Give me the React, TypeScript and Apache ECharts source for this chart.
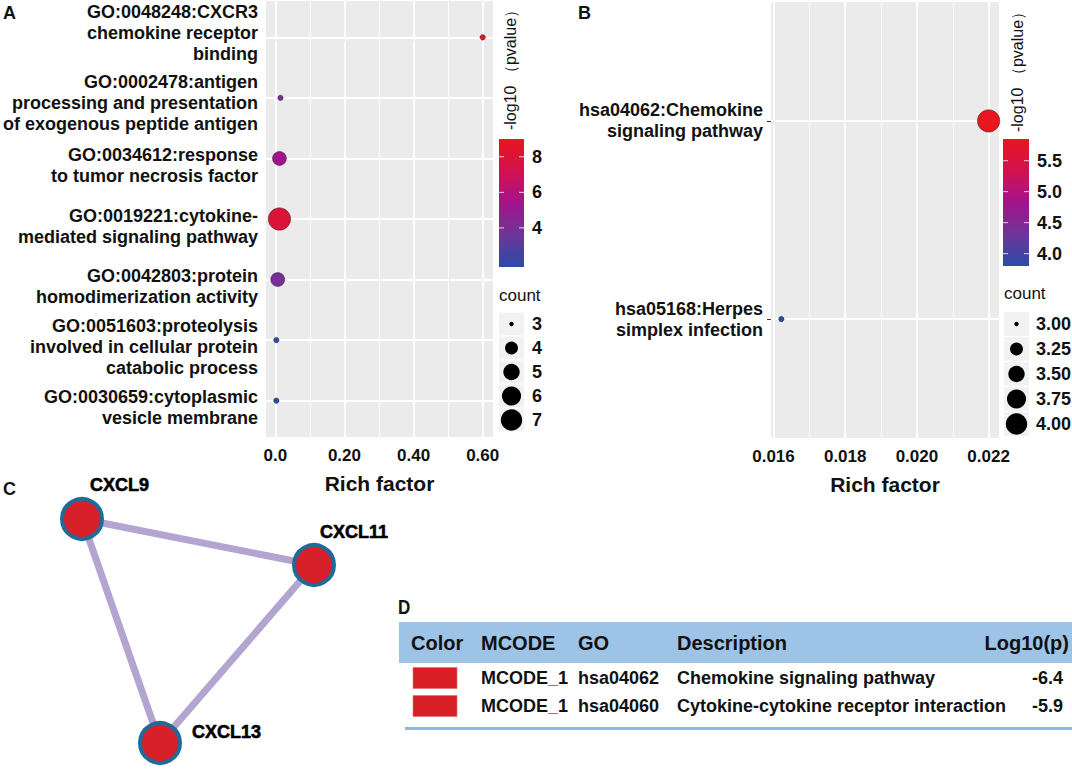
import React, { useEffect, useRef } from "react";
import * as echarts from "echarts";

// ---------- Panel A: GO enrichment ----------
const goTerms = [
  "GO:0048248:CXCR3\nchemokine receptor\nbinding",
  "GO:0002478:antigen\nprocessing and presentation\nof exogenous peptide antigen",
  "GO:0034612:response\nto tumor necrosis factor",
  "GO:0019221:cytokine-\nmediated signaling pathway",
  "GO:0042803:protein\nhomodimerization activity",
  "GO:0051603:proteolysis\ninvolved in cellular protein\ncatabolic process",
  "GO:0030659:cytoplasmic\nvesicle membrane",
];
const goRichFactor = [0.6, 0.015, 0.012, 0.012, 0.007, 0.003, 0.003];
const goCount = [3, 3, 4, 7, 4, 3, 3];
const goLogP = [9.0, 4.1, 5.4, 8.0, 3.9, 1.9, 1.8];
const goXTicks = [0, 0.2, 0.4, 0.6];
const goXTickLabels = ["0.0", "0.20", "0.40", "0.60"];
const goXMinor = [0.1, 0.3, 0.5];
const goColorTicks = [4, 6, 8];
const goColorTickLabels = ["4", "6", "8"];
const goCountBreaks = [3, 4, 5, 6, 7];
const goCountLabels = ["3", "4", "5", "6", "7"];

// ---------- Panel B: KEGG enrichment ----------
const keggTerms = [
  "hsa04062:Chemokine\nsignaling pathway",
  "hsa05168:Herpes\nsimplex infection",
];
const keggRichFactor = [0.022, 0.01622];
const keggCount = [4, 3];
const keggLogP = [5.85, 3.8];
const keggXTicks = [0.016, 0.018, 0.02, 0.022];
const keggXTickLabels = ["0.016", "0.018", "0.020", "0.022"];
const keggXMinor = [0.017, 0.019, 0.021];
const keggColorTicks = [4.0, 4.5, 5.0, 5.5];
const keggColorTickLabels = ["4.0", "4.5", "5.0", "5.5"];
const keggCountBreaks = [3.0, 3.25, 3.5, 3.75, 4.0];
const keggCountLabels = ["3.00", "3.25", "3.50", "3.75", "4.00"];

// ---------- Panel C: network ----------
const genes = ["CXCL9", "CXCL11", "CXCL13"];
const geneLayoutX = [82, 314, 160];
const geneLayoutY = [49, 95, 273];
const geneLinks = [
  ["CXCL9", "CXCL11"],
  ["CXCL9", "CXCL13"],
  ["CXCL11", "CXCL13"],
];

// ---------- Panel D: MCODE table ----------
const tableHeader = ["Color", "MCODE", "GO", "Description", "Log10(p)"];
const tableMcode = ["MCODE_1", "MCODE_1"];
const tableGo = ["hsa04062", "hsa04060"];
const tableDesc = ["Chemokine signaling pathway", "Cytokine-cytokine receptor interaction"];
const tableLogP = ["-6.4", "-5.9"];

const FONT = "'Liberation Sans', Arial, sans-serif";
const TXT = "#111";
const GRAD = ["#2B4BA8", "#6E3599", "#A3138C", "#D2124E", "#E9151F"];

const ext = (a: number[]) => [Math.min(...a), Math.max(...a)];
const expand = (a: number[], m = 0.05) => {
  const [lo, hi] = ext(a);
  const r = hi - lo;
  return [lo - r * m, hi + r * m];
};
const sizeScale = (c: number, lo: number, hi: number) =>
  3.4 * (1 + 5 * Math.sqrt((c - lo) / (hi - lo))) + 2;

function colorbar(x: number, y: number, w: number, h: number, min: number, max: number, ticks: number[], labels: string[]) {
  const els: any[] = [];
  els.push({
    type: "rect",
    shape: { x, y, width: w, height: h },
    style: {
      fill: new echarts.graphic.LinearGradient(
        0, 0, 0, 1,
        GRAD.slice().reverse().map((c, i) => ({ offset: i / (GRAD.length - 1), color: c }))
      ),
    },
  });
  ticks.forEach((v, i) => {
    const ty = y + ((max - v) / (max - min)) * h;
    els.push({ type: "line", shape: { x1: x, y1: ty, x2: x + 5, y2: ty }, style: { stroke: "rgba(255,255,255,0.8)", lineWidth: 1 } });
    els.push({ type: "line", shape: { x1: x + w - 5, y1: ty, x2: x + w, y2: ty }, style: { stroke: "rgba(255,255,255,0.8)", lineWidth: 1 } });
    els.push({
      type: "text",
      style: { text: labels[i], x: x + w + 8, y: ty, fill: TXT, fontSize: 18, fontWeight: "bold", fontFamily: FONT, textAlign: "left", textVerticalAlign: "middle" },
    });
  });
  return els;
}

function countLegend(x: number, titleY: number, firstY: number, step: number, breaks: number[], labels: string[], labelX: number) {
  const els: any[] = [];
  const lo = Math.min(...breaks);
  const hi = Math.max(...breaks);
  els.push({
    type: "text",
    style: { text: "count", x, y: titleY, fill: TXT, fontSize: 17, fontFamily: FONT, textAlign: "left", textVerticalAlign: "middle" },
  });
  breaks.forEach((b, i) => {
    const cy = firstY + i * step;
    els.push({ type: "rect", shape: { x: x, y: cy - step / 2 + 0.5, width: 25, height: step - 1 }, style: { fill: "#F2F2F2" } });
    els.push({ type: "circle", shape: { cx: x + 12.5, cy, r: sizeScale(b, lo, hi) / 2 - 0.5 }, style: { fill: "#000" } });
    els.push({
      type: "text",
      style: { text: labels[i], x: labelX, y: cy, fill: TXT, fontSize: 18, fontWeight: "bold", fontFamily: FONT, textAlign: "left", textVerticalAlign: "middle" },
    });
  });
  return els;
}

function gridLines(xMajor: number[], xMinor: number[], nCat: number) {
  const data: any[] = [];
  xMajor.forEach((v) => data.push({ xAxis: v, lineStyle: { width: 1.8 } }));
  xMinor.forEach((v) => data.push({ xAxis: v, lineStyle: { width: 0.9 } }));
  for (let i = 0; i < nCat; i++) data.push({ yAxis: i, lineStyle: { width: 1.8 } });
  return {
    silent: true,
    z: 1,
    precision: 8,
    symbol: ["none", "none"],
    label: { show: false },
    emphasis: { disabled: true },
    lineStyle: { color: "#FFFFFF", type: "solid" },
    data,
  };
}

function tickFormatter(ticks: number[], labels: string[]) {
  return (v: number) => {
    const i = ticks.findIndex((t) => Math.abs(t - v) < 1e-9);
    return i >= 0 ? labels[i] : "";
  };
}

// rich-text label: optional spacer line above (positive) or below (negative) to shift the block
function richLabel(text: string, shift: number) {
  const body = text.split("\n").map((l) => `{t|${l}}`).join("\n");
  if (shift > 0) return `{s${shift}| }\n${body}`;
  if (shift < 0) return `${body}\n{s${-shift}| }`;
  return body;
}

export default function App() {
  const ref = useRef<HTMLDivElement>(null);
  useEffect(() => {
    document.body.style.margin = "0";
    if (!ref.current) return;
    const chart = echarts.init(ref.current, undefined, { renderer: "svg" });

    const [axMin, axMax] = expand(goRichFactor);
    const [bxMin, bxMax] = expand(keggRichFactor);
    const [aCMin, aCMax] = ext(goLogP);
    const [bCMin, bCMax] = ext(keggLogP);
    const [aSMin, aSMax] = ext(goCount);
    const [bSMin, bSMax] = ext(keggCount);
    const goIdx = goTerms.map((_, i) => i);
    const keggIdx = keggTerms.map((_, i) => i);

    const richStyles: any = {
      t: { fontSize: 18, fontWeight: "bold", fontFamily: FONT, color: TXT, lineHeight: 21 },
      s14: { fontSize: 1, lineHeight: 14 },
      s10: { fontSize: 1, lineHeight: 10 },
      s8: { fontSize: 1, lineHeight: 8 },
    };

    const xAxisBase = (gridIndex: number, min: number, max: number, ticks: number[], labels: string[]) => ({
      type: "value",
      gridIndex,
      min,
      max,
      axisLine: { show: false },
      splitLine: { show: false },
      axisTick: { show: true, length: 4, lineStyle: { color: "#333", width: 1 }, customValues: ticks },
      axisLabel: {
        customValues: ticks,
        formatter: tickFormatter(ticks, labels),
        color: TXT,
        fontSize: 17,
        fontWeight: "bold",
        fontFamily: FONT,
        margin: 10,
        showMinLabel: true,
        showMaxLabel: true,
      },
      name: "Rich factor",
      nameLocation: "middle",
      nameGap: 36,
      nameTextStyle: { fontSize: 21, fontWeight: "bold", color: TXT, fontFamily: FONT },
    });
    const yAxisBase = (gridIndex: number, terms: string[], shifts: number[]) => {
      const lo = -0.6;
      const hi = terms.length - 1 + 0.6;
      // empty sentinel labels at the axis ends keep the real labels away from min/max label thinning
      const vals = [lo, ...terms.map((_, i) => i), hi];
      return {
        type: "value",
        gridIndex,
        min: lo,
        max: hi,
        inverse: true,
        axisLine: { show: false },
        splitLine: { show: false },
        axisTick: { show: true, length: 4, lineStyle: { color: "#333", width: 1 }, customValues: vals },
        axisLabel: {
          customValues: vals,
          formatter: (v: number) => {
            const i = Math.round(v);
            if (Math.abs(v - i) > 1e-6 || terms[i] === undefined) return "";
            return richLabel(terms[i], shifts[i]);
          },
          rich: richStyles,
          color: TXT,
          fontSize: 18,
          fontWeight: "bold",
          fontFamily: FONT,
          align: "right",
          margin: 8,
          showMinLabel: false,
          showMaxLabel: false,
          hideOverlap: false,
        },
      };
    };

    const ctext = (text: string, x: number, y: number, size: number, weight: string, align: string, scaleX = 1) => ({
      type: "text",
      x,
      y,
      scaleX,
      style: { text, x: 0, y: 0, fill: TXT, fontSize: size, fontWeight: weight, fontFamily: FONT, textAlign: align, textVerticalAlign: "middle" },
    });

    const graphic: any[] = [
      ctext("A", 3, 13, 18, "bold", "left"),
      ctext("B", 578, 13, 18, "bold", "left"),
      ctext("C", 3, 489, 18, "bold", "left"),
      ctext("D", 398, 607, 20, "bold", "left", 0.85),
      { type: "text", x: 510, y: 66, rotation: Math.PI / 2, style: { text: "-log10 （pvalue）", x: 0, y: 0, fill: TXT, fontSize: 16, fontFamily: FONT, textAlign: "center", textVerticalAlign: "middle" } },
      { type: "text", x: 1017, y: 68, rotation: Math.PI / 2, style: { text: "-log10 （pvalue）", x: 0, y: 0, fill: TXT, fontSize: 16, fontFamily: FONT, textAlign: "center", textVerticalAlign: "middle" } },
      ...colorbar(499, 139, 25, 128, aCMin, aCMax, goColorTicks, goColorTickLabels),
      ...colorbar(1003, 139, 26, 127, bCMin, bCMax, keggColorTicks, keggColorTickLabels),
      ...countLegend(499, 295, 324, 24, goCountBreaks, goCountLabels, 532),
      ...countLegend(1004, 293, 324, 25, keggCountBreaks, keggCountLabels, 1036),
    ];

    // Panel D table
    const headerX = [411, 481, 578, 677, 1069];
    graphic.push({ type: "rect", shape: { x: 399, y: 622, width: 673, height: 41 }, style: { fill: "#9DC3E6" } });
    tableHeader.forEach((h, i) => {
      graphic.push(ctext(h, headerX[i], 643, 20, "bold", i === tableHeader.length - 1 ? "right" : "left"));
    });
    tableMcode.forEach((m, r) => {
      const cy = 678 + r * 28;
      graphic.push({ type: "rect", shape: { x: 413, y: cy - 10.5, width: 44, height: 21 }, style: { fill: "#D81F26", stroke: "#E86A6E", lineWidth: 0.6 } });
      const cells = [m, tableGo[r], tableDesc[r]];
      cells.forEach((t, c) => {
        graphic.push(ctext(t, headerX[c + 1], cy, 18, "bold", "left"));
      });
      graphic.push(ctext(tableLogP[r], 1063, cy, 18, "bold", "right"));
    });
    graphic.push({ type: "rect", shape: { x: 405, y: 727, width: 667, height: 3 }, style: { fill: "#8FB8E0" } });

    const labelOffsets = [
      [8, -34],
      [6, -33],
      [32, -11],
    ];

    const option: any = {
      animation: false,
      backgroundColor: "#FFFFFF",
      textStyle: { fontFamily: FONT },
      grid: [
        { left: 265, top: 1, width: 228, height: 436, show: true, backgroundColor: "#EBEBEB", borderWidth: 0 },
        { left: 771, top: 2, width: 228, height: 436, show: true, backgroundColor: "#EBEBEB", borderWidth: 0 },
        { left: 0, top: 470, width: 400, height: 299, show: false },
      ],
      xAxis: [
        xAxisBase(0, axMin, axMax, goXTicks, goXTickLabels),
        xAxisBase(1, bxMin, bxMax, keggXTicks, keggXTickLabels),
        { type: "value", gridIndex: 2, min: 0, max: 400, show: false },
      ],
      yAxis: [
        yAxisBase(0, goTerms, [-8, 10, 14, 14, 14, 14, 14]),
        yAxisBase(1, keggTerms, [0, 0]),
        { type: "value", gridIndex: 2, min: 0, max: 299, inverse: true, show: false },
      ],
      visualMap: [
        { type: "continuous", show: false, seriesIndex: 0, dimension: 2, min: aCMin, max: aCMax, inRange: { color: GRAD } },
        { type: "continuous", show: false, seriesIndex: 1, dimension: 2, min: bCMin, max: bCMax, inRange: { color: GRAD } },
      ],
      series: [
        {
          type: "scatter",
          xAxisIndex: 0,
          yAxisIndex: 0,
          z: 3,
          data: goIdx.map((i) => [goRichFactor[i], i, goLogP[i], goCount[i]]),
          symbolSize: (d: number[]) => sizeScale(d[3], aSMin, aSMax),
          itemStyle: { borderColor: "rgba(25,25,25,0.75)", borderWidth: 0.6, opacity: 1 },
          markLine: gridLines(goXTicks, goXMinor, goTerms.length),
        },
        {
          type: "scatter",
          xAxisIndex: 1,
          yAxisIndex: 1,
          z: 3,
          data: keggIdx.map((i) => [keggRichFactor[i], i, keggLogP[i], keggCount[i]]),
          symbolSize: (d: number[]) => sizeScale(d[3], bSMin, bSMax),
          itemStyle: { borderColor: "rgba(25,25,25,0.75)", borderWidth: 0.6, opacity: 1 },
          markLine: gridLines(keggXTicks, keggXMinor, keggTerms.length),
        },
        {
          type: "graph",
          coordinateSystem: "cartesian2d",
          xAxisIndex: 2,
          yAxisIndex: 2,
          layout: "none",
          roam: false,
          symbolSize: 40,
          itemStyle: { color: "#D7202A", borderColor: "#1F6A99", borderWidth: 4 },
          lineStyle: { color: "#B3A4D0", width: 7, opacity: 1, curveness: 0 },
          label: {
            show: true, position: "inside", align: "left", verticalAlign: "middle", color: "#000",
            fontSize: 18, fontWeight: 900, fontFamily: FONT, textBorderColor: "#000", textBorderWidth: 0.6,
          },
          emphasis: { disabled: true },
          data: genes.map((g, i) => ({
            name: g,
            value: [geneLayoutX[i], geneLayoutY[i]],
            label: { offset: labelOffsets[i] },
          })),
          links: geneLinks.map(([s, t]) => ({ source: s, target: t })),
        },
      ],
      graphic,
    };
    chart.setOption(option);
    return () => chart.dispose();
  }, []);
  return <div ref={ref} style={{ width: 1072, height: 769 }} />;
}
